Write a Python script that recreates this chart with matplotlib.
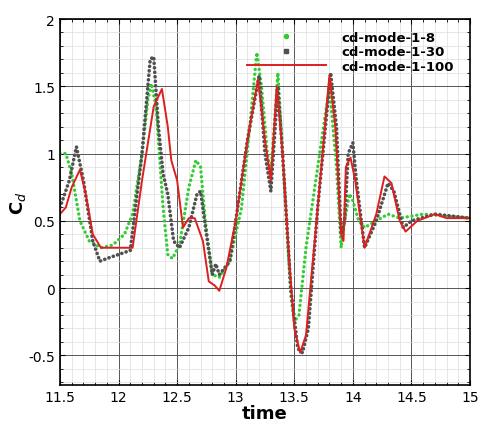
import matplotlib.pyplot as plt
from matplotlib.lines import Line2D
from matplotlib.ticker import MultipleLocator, FormatStrFormatter

t8 = [11.5, 11.55, 11.6, 11.67, 11.75, 11.85, 11.95, 12.05, 12.12, 12.2, 12.25, 12.28, 12.32, 12.38,
      12.42, 12.46, 12.52, 12.6, 12.66, 12.7, 12.74, 12.8, 12.86, 12.95, 13.05, 13.12, 13.18, 13.22,
      13.27, 13.3, 13.36, 13.42, 13.47, 13.5, 13.54, 13.6, 13.7, 13.8, 13.86, 13.9, 13.93, 13.97,
      14.0, 14.05, 14.1, 14.2, 14.3, 14.4, 14.6, 15.0]
cd8 = [1.0, 1.0, 0.85, 0.5, 0.35, 0.3, 0.32, 0.4, 0.55, 1.0, 1.4, 1.52, 1.35, 0.6,
       0.25, 0.22, 0.32, 0.75, 0.95, 0.9, 0.5, 0.1, 0.08, 0.2, 0.6, 1.2, 1.75, 1.5,
       1.0, 0.85, 1.6, 0.7, -0.05, -0.25, -0.2, 0.3, 0.9, 1.5, 0.9, 0.3, 0.5, 0.7,
       0.65, 0.5, 0.45, 0.5, 0.55, 0.52, 0.55, 0.52]

t30 = [11.5, 11.58, 11.64, 11.7, 11.78, 11.84, 11.9, 12.0, 12.1, 12.2, 12.27, 12.3, 12.34, 12.38,
       12.42, 12.47, 12.52, 12.6, 12.67, 12.7, 12.75, 12.8, 12.83, 12.86, 12.95, 13.0, 13.1, 13.2,
       13.25, 13.3, 13.36, 13.4, 13.47, 13.53, 13.57, 13.62, 13.7, 13.81, 13.86, 13.9, 13.93, 13.96,
       14.0, 14.03, 14.1, 14.2, 14.3, 14.35, 14.43, 14.5, 14.7, 15.0]
cd30 = [0.6, 0.8, 1.05, 0.8, 0.35, 0.2, 0.22, 0.25, 0.28, 1.0, 1.7, 1.72, 1.2, 0.85,
        0.7, 0.35, 0.3, 0.45, 0.7, 0.72, 0.4, 0.1, 0.18, 0.1, 0.2, 0.5, 1.1, 1.58,
        1.0, 0.72, 1.5, 1.0, 0.0, -0.45, -0.48, -0.3, 0.6, 1.6, 1.2, 0.4, 0.5, 1.0,
        1.08, 0.8, 0.3, 0.5, 0.78, 0.72, 0.45, 0.5, 0.55, 0.52]

t100 = [11.5, 11.55, 11.6, 11.67, 11.72, 11.78, 11.85, 12.0, 12.12, 12.2, 12.3, 12.37, 12.42, 12.45,
        12.5, 12.55, 12.6, 12.65, 12.72, 12.77, 12.82, 12.86, 12.92, 13.0, 13.1, 13.19, 13.25, 13.3,
        13.35, 13.4, 13.45, 13.5, 13.55, 13.6, 13.7, 13.8, 13.85, 13.9, 13.92, 13.94, 13.98, 14.02,
        14.1, 14.2, 14.27, 14.33, 14.4, 14.45, 14.55, 14.7, 14.8, 15.0]
cd100 = [0.55, 0.6, 0.75, 0.88, 0.7, 0.4, 0.3, 0.3, 0.3, 0.8, 1.35, 1.48, 1.2, 0.95,
         0.8, 0.45, 0.52, 0.52, 0.35, 0.05, 0.02, -0.02, 0.15, 0.5, 1.1, 1.55, 1.1, 0.8,
         1.5, 1.0, 0.3, -0.3, -0.48, -0.35, 0.6, 1.58, 1.2, 0.4, 0.35, 0.9, 0.97, 0.8,
         0.3, 0.55, 0.83, 0.78, 0.5, 0.42, 0.5, 0.55, 0.52, 0.52]

fig = plt.figure(figsize=(4.88, 4.31), dpi=100)
ax = fig.add_axes([60 / 488, 1 - 386 / 431, 410 / 488, 366 / 431])

ax.plot(t8, cd8, color='#33cc33', lw=2.4, ls=(0, (0.05, 1.4)), dash_capstyle='round')
ax.plot(t30, cd30, color='#505050', lw=2.6, ls=(0, (0.05, 1.2)), dash_capstyle='round')
ax.plot(t100, cd100, color='#dd1f1f', lw=1.4)

ax.set_xlim(11.5, 15)
ax.set_ylim(-0.72, 2)
ax.xaxis.set_major_locator(MultipleLocator(0.5))
ax.xaxis.set_minor_locator(MultipleLocator(0.1))
ax.yaxis.set_major_locator(MultipleLocator(0.5))
ax.yaxis.set_minor_locator(MultipleLocator(0.1))
ax.xaxis.set_major_formatter(FormatStrFormatter('%g'))
ax.yaxis.set_major_formatter(FormatStrFormatter('%g'))
ax.grid(which='major', color='#555555', lw=0.7)
ax.grid(which='minor', color='#dddddd', lw=0.5)
ax.set_axisbelow(True)
ax.tick_params(which='both', direction='in', top=True, right=True, labelsize=10)
ax.set_xlabel('time', fontsize=13, fontweight='bold', labelpad=0)
ax.set_ylabel('C$_d$', fontsize=13, fontweight='bold', labelpad=0)
for s in ax.spines.values():
    s.set_linewidth(1.2)

handles = [Line2D([], [], color='#33cc33', marker='o', ms=3, ls='none'),
           Line2D([], [], color='#505050', marker='s', ms=3, ls='none'),
           Line2D([], [], color='#dd1f1f', lw=1.4)]
labels = ['cd-mode-1-8', 'cd-mode-1-30', 'cd-mode-1-100']
ax.legend(handles, labels, loc='upper right', bbox_to_anchor=(0.99, 1.0), frameon=False,
          prop={'weight': 'bold', 'size': 9.5}, handlelength=6, labelspacing=0.1,
          handletextpad=1.2)

fig.savefig('out.png', dpi=100)
